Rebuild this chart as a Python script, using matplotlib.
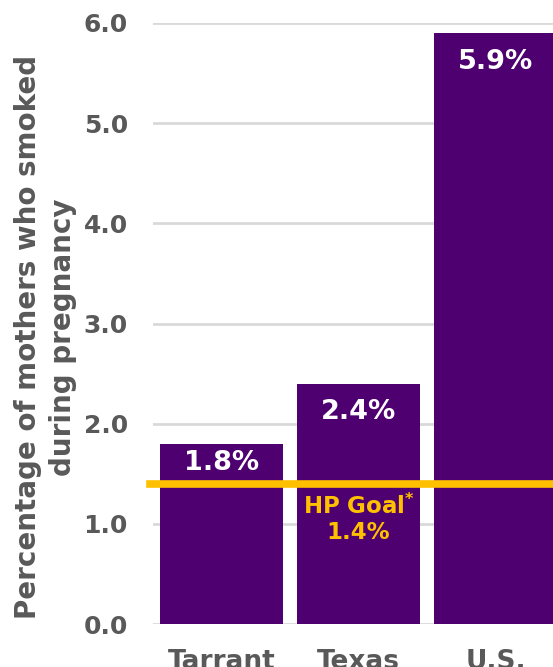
import numpy as np
import matplotlib.pyplot as plt

# smoking during pregnancy, percent of mothers
regions = ["Tarrant", "Texas", "U.S."]
pct = [1.8, 2.4, 5.9]
hp_goal = 1.4
yticks = [0.0, 1.0, 2.0, 3.0, 4.0, 5.0, 6.0]

PURPLE = "#4E0070"
GOLD = "#FFC000"
GRAY = "#595959"
GRID = "#D9D9D9"

plt.rcParams['font.family'] = ['DejaVu Sans']
plt.rcParams['font.weight'] = 'bold'

W, H = 553, 667
fig = plt.figure(figsize=(W/100, H/100), dpi=100)
ax = fig.add_axes([153/W, 43/H, 1 - 153/W, (624 - 23)/H])

x = np.arange(len(regions))
bars = ax.bar(x, pct, width=0.9, color=PURPLE, zorder=3)

ax.set_xlim(-0.5, 2 + 57.5/137)
ax.set_ylim(0, 6.0)
ax.set_yticks(yticks)
ax.set_yticklabels([f"{v:.1f}" for v in yticks])
ax.set_xticks(x)
ax.set_xticklabels(regions)
ax.tick_params(length=0, colors=GRAY)
ax.tick_params(axis='y', pad=18, labelsize=18)
ax.tick_params(axis='x', pad=18, labelsize=19)
for lab in ax.get_xticklabels() + ax.get_yticklabels():
    lab.set_fontweight('bold')

for s in ax.spines.values():
    s.set_visible(False)
ax.grid(axis='y', color=GRID, lw=2, zorder=0)
ax.set_axisbelow(True)

# goal line across all bars
ax.axhline(hp_goal, xmin=-0.0075, color=GOLD, lw=5.5, zorder=4, clip_on=False)

offsets = [-19, -28, -29]
for b, v, off in zip(bars, pct, offsets):
    ax.annotate(f"{v:.1f}%", (b.get_x() + b.get_width()/2, v),
                xytext=(0, off), textcoords='offset pixels',
                ha='center', va='center', color='white',
                fontsize=19.5, fontweight='bold', zorder=5)

ax.text(x[1], 1.18, "HP Goal$^{*}$", ha='center', va='center', color=GOLD,
        fontsize=16.5, fontweight='bold', zorder=5)
ax.text(x[1], 0.91, f"{hp_goal:.1f}%", ha='center', va='center', color=GOLD,
        fontsize=16.5, fontweight='bold', zorder=5)

# two-line y axis title, placed by hand
ylab_y = 1 - 337/H
fig.text(28/W, ylab_y, "Percentage of mothers who smoked", rotation=90,
         ha='center', va='center', fontsize=20, fontweight='bold', color=GRAY)
fig.text(63/W, ylab_y, "during pregnancy", rotation=90,
         ha='center', va='center', fontsize=20, fontweight='bold', color=GRAY)

fig.savefig("out.png", dpi=100)
